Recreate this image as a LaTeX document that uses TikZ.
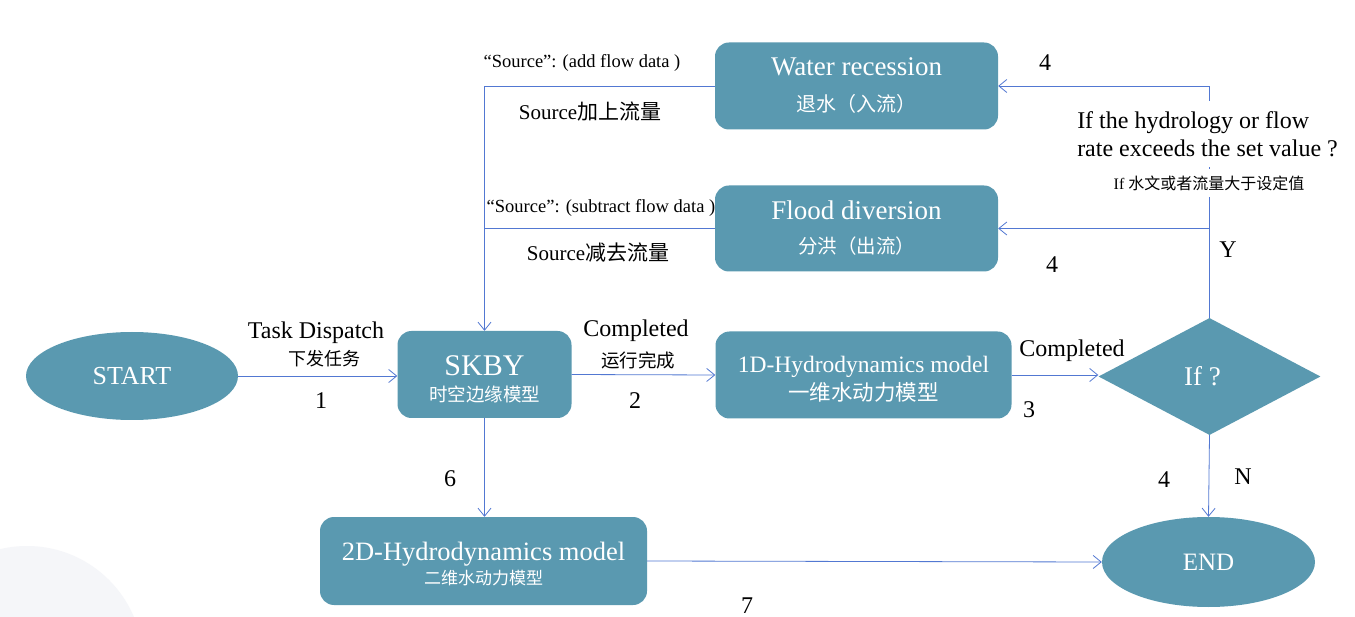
\documentclass[tikz,border=0pt]{standalone}
\usepackage{fontspec}
\setmainfont{Liberation Serif}
\newfontfamily\cjk{Noto Sans CJK SC}
\usetikzlibrary{shapes.geometric,arrows.meta}
\definecolor{boxc}{RGB}{90,153,176}
\definecolor{linec}{RGB}{82,120,210}
\definecolor{circc}{RGB}{245,246,249}
\newcommand{\fs}[2]{\fontsize{#1}{#2}\selectfont}
\begin{document}
\begin{tikzpicture}[x=1pt,y=-1pt,
 box/.style={rounded corners=14pt, fill=boxc, text=white, align=center, inner sep=0pt},
 oval/.style={ellipse, fill=boxc, text=white, inner sep=0pt},
 conn/.style={draw=linec, line width=0.8pt, -{Straight Barb[length=8pt,width=13pt]}},
 plain/.style={draw=linec, line width=0.8pt},
 lbl/.style={inner sep=0pt, text=black},
]
\fill[white] (0,0) rectangle (1355,617);
\useasboundingbox (0,0) rectangle (1355,617);
\fill[circc] (27,662) circle[radius=116pt];

\node[oval, minimum width=212pt, minimum height=88pt, font=\fs{26}{30}] (start) at (132,376) {START};
\node[box, minimum width=174pt, minimum height=87pt, font=\fs{30}{26}] (sk) at (484.5,374.5) {\rule{0pt}{29pt}SKBY\\{\cjk\fs{18.5}{22}时空边缘模型}};
\node[box, minimum width=296pt, minimum height=87pt, font=\fs{23.5}{28}] (oned) at (863.5,375) {\rule{0pt}{24pt}1D-Hydrodynamics model\\{\cjk\fs{21.5}{25}一维水动力模型}};
\node[diamond, fill=boxc, text=white, inner sep=0pt, minimum width=222pt, minimum height=117pt, font=\fs{27}{30}] (dia) at (1209.5,376.5) {If ?\hspace*{14pt}};
\node[box, minimum width=283pt, minimum height=87pt, font=\fs{27}{36}] (wr) at (856.5,86) {Water recession\\{\cjk\fs{20}{24}退水（入流）}};
\node[box, minimum width=283pt, minimum height=86pt, font=\fs{27}{34}] (fd) at (856.5,228.5) {Flood diversion\\{\cjk\fs{19.5}{24}分洪（出流）}};
\node[box, minimum width=327pt, minimum height=88pt, font=\fs{26.5}{24.5}] (twod) at (483.5,561) {\rule{0pt}{24pt}2D-Hydrodynamics model\\{\cjk\fs{17}{20}二维水动力模型}};
\node[oval, minimum width=213pt, minimum height=90pt, font=\fs{25}{30}] (end) at (1208.5,562) {END};

\draw[conn] (start.east) -- (start.east -| sk.west);
\draw[conn] (sk.east) -- (oned.west);
\draw[conn] (oned.east) -- (oned.east -| dia.west);
\draw[conn] (dia.north) |- (fd.east);
\draw[conn] (dia.north) |- (wr.east);
\draw[conn] (wr.west) -| (sk.north);
\draw[plain] (fd.west) -- (fd.west -| sk.north);
\draw[conn] (sk.south) -- (twod.north -| sk.south);
\draw[conn] (twod.east) -- (end.west);
\draw[conn] (dia.south) -- (end.north);

\node[lbl, fill=white, align=left, inner ysep=10pt, inner xsep=2pt, font=\fs{24}{28}] (q1) at (1207.5,134) {If the hydrology or flow\\rate exceeds the set value ?};
\node[lbl, fill=white, inner ysep=7pt, inner xsep=2pt, font=\fs{16}{19}] (q2) at (1209,183) {If {\cjk 水文或者流量大于设定值}};

\node[lbl, font=\fs{18.5}{22}] (ladd) at (582,63) {“Source”: (add flow data )};
\node[lbl, font=\fs{21}{24}] (laddc) at (590,112) {Source{\cjk 加上流量}};
\node[lbl, font=\fs{18.5}{22}] (lsub) at (601,208) {“Source”: (subtract flow data )};
\node[lbl, font=\fs{21}{24}] (lsubc) at (598,253) {Source{\cjk 减去流量}};
\node[lbl, font=\fs{24}{28}] (ltask) at (316,333) {Task Dispatch};
\node[lbl, font=\cjk\fs{18}{22}] (ltaskc) at (324,359) {下发任务};
\node[lbl, font=\fs{24}{28}] (lcomp) at (636,331) {Completed};
\node[lbl, font=\cjk\fs{18.5}{22}] (lcompc) at (638,360) {运行完成};
\node[lbl, font=\fs{24}{28}] (lcompb) at (1072,351) {Completed};

\node[lbl, font=\fs{24}{28}] (n1) at (321,401) {1};
\node[lbl, font=\fs{24}{28}] (n2) at (635,401) {2};
\node[lbl, font=\fs{24}{28}] (n3) at (1029,410) {3};
\node[lbl, font=\fs{24}{28}] (n4a) at (1045,63) {4};
\node[lbl, font=\fs{24}{28}] (n4b) at (1052,265) {4};
\node[lbl, font=\fs{24}{28}] (n4c) at (1164,480) {4};
\node[lbl, font=\fs{24}{28}] (n6) at (450,479) {6};
\node[lbl, font=\fs{24}{28}] (n7) at (747,605.5) {7};
\node[lbl, font=\fs{24}{28}] (ly) at (1228,250) {Y};
\node[lbl, font=\fs{24}{28}] (ln) at (1243,477) {N};
\end{tikzpicture}
\end{document}
